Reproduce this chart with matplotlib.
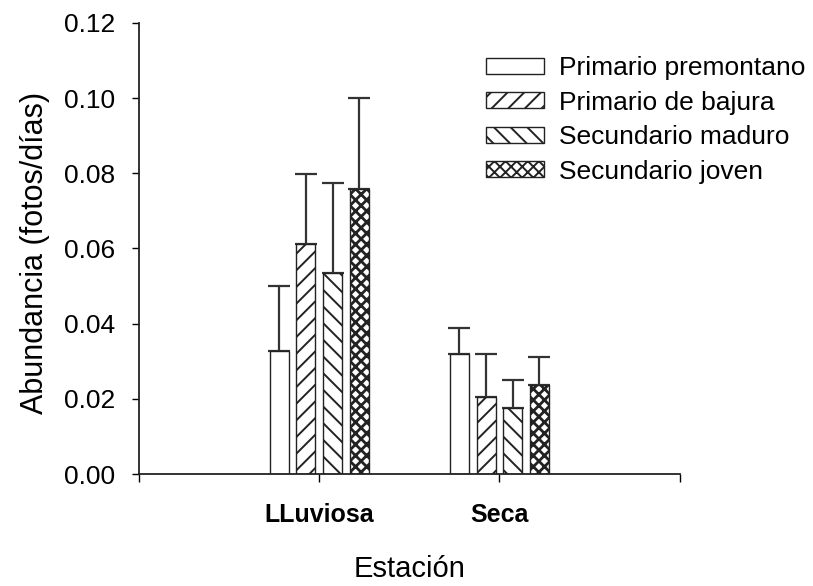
import numpy as np
import matplotlib.pyplot as plt
from matplotlib.patches import Patch

plt.rcParams['font.family'] = ['Liberation Sans', 'DejaVu Sans']
plt.rcParams['hatch.linewidth'] = 1.4

# Datos
estaciones = ["LLuviosa", "Seca"]
bosques = ["Primario premontano", "Primario de bajura",
           "Secundario maduro", "Secundario joven"]
media_premontano = [0.0327, 0.0319]
media_bajura = [0.0611, 0.0204]
media_maduro = [0.0536, 0.0175]
media_joven = [0.0758, 0.0236]
err_premontano = [0.0173, 0.0069]
err_bajura = [0.0188, 0.0115]
err_maduro = [0.0239, 0.0074]
err_joven = [0.0241, 0.0075]

medias = [media_premontano, media_bajura, media_maduro, media_joven]
errores = [err_premontano, err_bajura, err_maduro, err_joven]

fig = plt.figure(figsize=(8.13, 5.86), dpi=100)
ax = fig.add_axes([0.171, 0.191, 0.665, 0.770])

x = np.arange(1, len(estaciones) + 1)
paso = 0.148
ancho = 0.105
tramas = [None, "//", "\\\\", "xxx"]
grosor_trama = [1.4, 1.4, 1.4, 2.0]

handles = []
for i, (m, e) in enumerate(zip(medias, errores)):
    pos = x + (i - 1.5) * paso
    with plt.rc_context({'hatch.linewidth': grosor_trama[i]}):
        barras = ax.bar(pos, m, ancho, color="white", edgecolor="#222222",
                        hatch=tramas[i], linewidth=1.0, zorder=2)
        h = Patch(facecolor="white", edgecolor="#222222", hatch=tramas[i], linewidth=1.0)
    for p in list(barras) + [h]:
        if hasattr(p, "set_hatch_linewidth"):
            p.set_hatch_linewidth(grosor_trama[i])
    handles.append(h)
    ax.errorbar(pos, m, yerr=[np.zeros(len(e)), e], fmt="none",
                ecolor="#333333", elinewidth=1.6, capsize=8, capthick=1.6, zorder=1)

ax.set_xlim(0, 3)
ax.set_ylim(0, 0.12)
ax.set_xticks([0, 1, 2, 3])
ax.set_xticklabels(["", estaciones[0], estaciones[1], ""], fontweight="bold")
yt = np.arange(0, 0.121, 0.02)
ax.set_yticks(yt)
ax.set_yticklabels([f"{v:.2f}" for v in yt])
ax.tick_params(axis="y", labelsize=19, length=5, width=1, pad=12)
ax.tick_params(axis="x", labelsize=18, length=6, width=1, pad=15)
for s in ["top", "right"]:
    ax.spines[s].set_visible(False)
for s in ["left", "bottom"]:
    ax.spines[s].set_linewidth(1.3)
    ax.spines[s].set_color("#222222")

ax.set_ylabel("Abundancia (fotos/días)", fontsize=22)
ax.yaxis.set_label_coords(-0.1645, 0.49)
ax.set_xlabel("Estación", fontsize=21, labelpad=20)

ax.legend(handles, bosques, loc="upper left", bbox_to_anchor=(486 / 813, 1 - 56 / 586),
          bbox_transform=fig.transFigure, frameon=False, fontsize=19,
          handlelength=2.2, handleheight=0.55, handletextpad=0.55,
          labelspacing=0.4, borderpad=0, borderaxespad=0)

fig.savefig("out.png", dpi=100)
